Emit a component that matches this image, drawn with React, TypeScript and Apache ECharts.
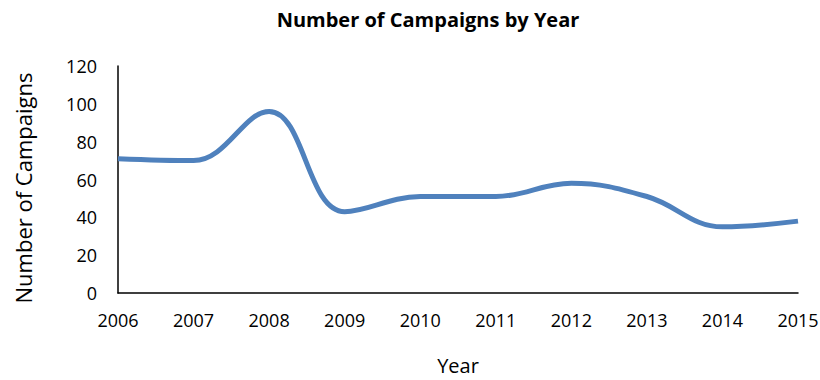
import React, { useEffect, useRef } from "react";
import * as echarts from "echarts";

const years = ["2006", "2007", "2008", "2009", "2010", "2011", "2012", "2013", "2014", "2015"];
const campaigns = [71, 70, 96, 43, 51, 51, 58, 51, 35, 38];
const yTicks = { min: 0, max: 120, interval: 20 };

export default function App() {
  const ref = useRef<HTMLDivElement>(null);
  useEffect(() => {
    if (!ref.current) return;
    const chart = echarts.init(ref.current, null, { renderer: "svg" });
    const font = "'Open Sans', sans-serif";
    chart.setOption({
      animation: false,
      backgroundColor: "#ffffff",
      title: {
        text: "Number of Campaigns by Year",
        left: 423,
        textAlign: "center",
        top: 4,
        textStyle: { fontFamily: font, fontWeight: "bold", fontSize: 20, color: "#000" },
      },
      graphic: [
        {
          type: "text",
          x: 23,
          y: 188,
          rotation: Math.PI / 2,
          style: {
            text: "Number of Campaigns",
            fontFamily: font,
            fontSize: 22,
            fill: "#000",
            align: "center",
            verticalAlign: "middle",
          },
        },
      ],
      grid: {
        left: 118,
        right: 22,
        top: 66,
        bottom: 87,
        containLabel: false,
        outerBoundsMode: "none",
      },
      xAxis: {
        type: "category",
        data: years,
        boundaryGap: false,
        name: "Year",
        nameLocation: "middle",
        nameGap: 62,
        nameTextStyle: { fontFamily: font, fontSize: 20, lineHeight: 20, color: "#000" },
        axisLine: { lineStyle: { color: "#000", width: 1.5 } },
        axisTick: { show: false },
        axisLabel: { fontFamily: font, fontSize: 18, color: "#000", margin: 18 },
        splitLine: { show: false },
      },
      yAxis: {
        type: "value",
        min: yTicks.min,
        max: yTicks.max,
        interval: yTicks.interval,
        axisLine: { show: true, lineStyle: { color: "#000", width: 1.5 } },
        axisTick: { show: false },
        axisLabel: { fontFamily: font, fontSize: 18, color: "#000", margin: 21 },
        splitLine: { show: false },
      },
      series: [
        {
          type: "line",
          data: campaigns,
          smooth: 0.4,
          symbol: "none",
          lineStyle: { color: "#4F81BD", width: 5 },
        },
      ],
    });
    return () => chart.dispose();
  }, []);
  return (
    <div
      ref={ref}
      style={{ position: "fixed", left: 0, top: 0, width: 820, height: 380 }}
    />
  );
}
